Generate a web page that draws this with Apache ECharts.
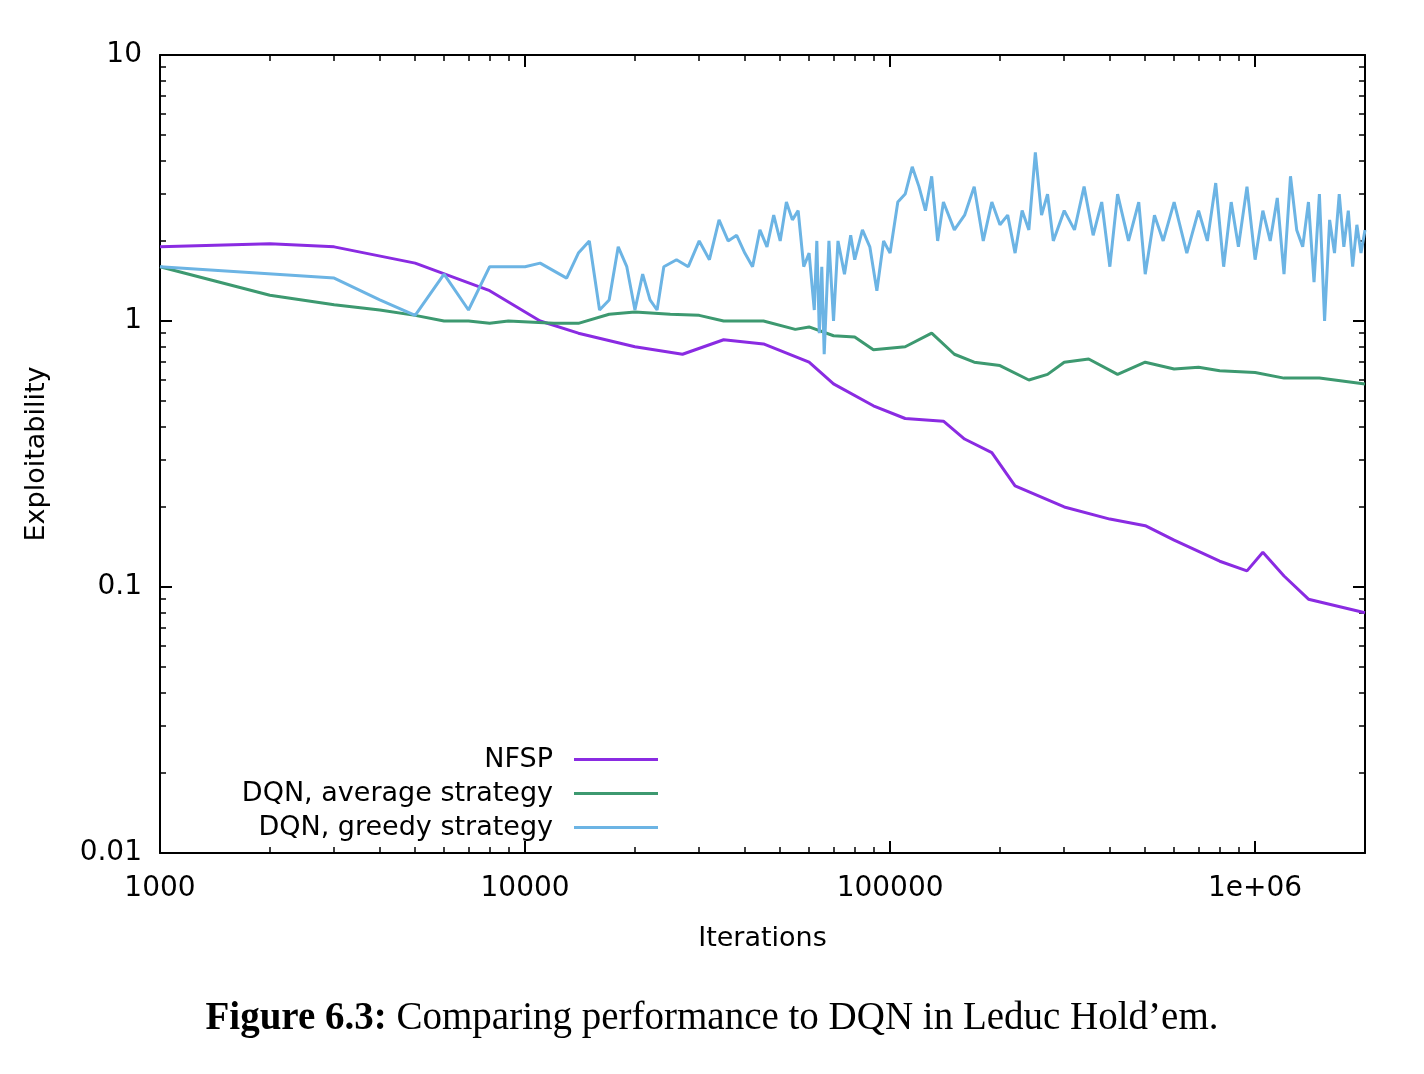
<!DOCTYPE html>
<html><head><meta charset="utf-8">
<script src="https://cdn.jsdelivr.net/npm/echarts@6/dist/echarts.min.js"></script>
<style>html,body{margin:0;background:#fff}#c{width:1424px;height:1074px}</style>
</head><body><div id="c"></div>
<script>
var nfspX = [1000,2000,3000,5000,8000,11000,14000,20000,27000,35000,45000,60000,70000,90000,110000,140000,160000,190000,220000,300000,400000,500000,600000,800000,950000,1050000,1200000,1400000,2000000];
var nfspY = [1.9,1.95,1.9,1.65,1.3,1.0,0.9,0.8,0.75,0.85,0.82,0.7,0.58,0.48,0.43,0.42,0.36,0.32,0.24,0.2,0.18,0.17,0.15,0.125,0.115,0.135,0.11,0.09,0.08];
var avgX = [1000,2000,3000,4000,5000,6000,7000,8000,9000,12000,14000,17000,20000,25000,30000,35000,45000,55000,60000,70000,80000,90000,110000,130000,150000,170000,200000,240000,270000,300000,350000,420000,500000,600000,700000,800000,1000000,1200000,1500000,2000000];
var avgY = [1.6,1.25,1.15,1.1,1.05,1.0,1.0,0.98,1.0,0.98,0.98,1.06,1.08,1.06,1.05,1.0,1.0,0.93,0.95,0.88,0.87,0.78,0.8,0.9,0.75,0.7,0.68,0.6,0.63,0.7,0.72,0.63,0.7,0.66,0.67,0.65,0.64,0.61,0.61,0.58];
var greedyX = [1000,3000,4000,5000,6000,7000,8000,10000,11000,13000,14000,15000,16000,17000,18000,19000,20000,21000,22000,23000,24000,26000,28000,30000,32000,34000,36000,38000,40000,42000,44000,46000,48000,50000,52000,54000,56000,58000,60000,62000,63000,64000,65000,66000,68000,70000,72000,75000,78000,80000,84000,88000,92000,96000,100000,105000,110000,115000,120000,125000,130000,135000,140000,150000,160000,170000,180000,190000,200000,210000,220000,230000,240000,250000,260000,270000,280000,300000,320000,340000,360000,380000,400000,420000,450000,480000,500000,530000,560000,600000,650000,700000,740000,780000,820000,860000,900000,950000,1000000,1050000,1100000,1150000,1200000,1250000,1300000,1350000,1400000,1450000,1500000,1550000,1600000,1650000,1700000,1750000,1800000,1850000,1900000,1950000,2000000];
var greedyY = [1.6,1.45,1.2,1.05,1.5,1.1,1.6,1.6,1.65,1.45,1.8,2.0,1.1,1.2,1.9,1.6,1.1,1.5,1.2,1.1,1.6,1.7,1.6,2.0,1.7,2.4,2.0,2.1,1.8,1.6,2.2,1.9,2.5,2.0,2.8,2.4,2.6,1.6,1.8,1.1,2.0,0.9,1.6,0.75,2.0,1.0,2.0,1.5,2.1,1.7,2.2,1.9,1.3,2.0,1.8,2.8,3.0,3.8,3.2,2.6,3.5,2.0,2.8,2.2,2.5,3.2,2.0,2.8,2.3,2.5,1.8,2.6,2.2,4.3,2.5,3.0,2.0,2.6,2.2,3.2,2.1,2.8,1.6,3.0,2.0,2.8,1.5,2.5,2.0,2.8,1.8,2.6,2.0,3.3,1.6,2.8,1.9,3.2,1.7,2.6,2.0,2.9,1.5,3.5,2.2,1.9,2.8,1.4,3.0,1.0,2.4,1.8,3.0,1.9,2.6,1.6,2.3,1.8,2.2];
var xTicks = {1000:'1000',10000:'10000',100000:'100000',1000000:'1e+06'};
var yTicks = {10:'10',1:'1',0.1:'0.1',0.01:'0.01'};

function pairs(xs, ys) { return xs.map(function (x, i) { return [x, ys[i]]; }); }

var chart = echarts.init(document.getElementById('c'));
var font = 'DejaVu Sans';
var lineIcon = 'path://M0,0 L84,0 L84,3 L0,3 Z';
function axisBase(show) {
  return {
    axisLine: { show: true, onZero: false, lineStyle: { color: '#000', width: 2 } },
    axisTick: { show: true, inside: true, length: 12, lineStyle: { color: '#000', width: 2 } },
    minorTick: { show: true, splitNumber: 9, length: 6, lineStyle: { color: '#000', width: 1.5 } },
    splitLine: { show: false },
    axisLabel: { show: show }
  };
}
var xb = axisBase(true), xt = axisBase(false), yl = axisBase(true), yr = axisBase(false);
xb.axisLabel = { color: '#000', fontSize: 28, fontFamily: font, margin: 22, formatter: function (v) { return xTicks[v] || ''; }, showMaxLabel: false };
yl.axisLabel = { color: '#000', fontSize: 28, fontFamily: font, margin: 18, formatter: function (v) { return yTicks[+v.toPrecision(3)] || ''; } };

function legend(name, top) {
  return { data: [name], right: 761, top: top, align: 'right', itemWidth: 84, itemHeight: 3, icon: lineIcon, itemGap: 0,
    textStyle: { fontSize: 27, fontFamily: font, color: '#000', padding: [0, 16, 0, 0] } };
}

chart.setOption({
  animation: false,
  grid: { left: 160, right: 59, top: 55, bottom: 221 },
  title: {
    text: '{b|Figure 6.3:} Comparing performance to DQN in Leduc Hold\u2019em.',
    left: 'center', top: 994,
    textStyle: { fontFamily: 'Liberation Serif', fontSize: 39, fontWeight: 'normal', color: '#000',
      rich: { b: { fontFamily: 'Liberation Serif', fontSize: 39, fontWeight: 'bold' } } }
  },
  legend: [legend('NFSP', 741), legend('DQN, average strategy', 775), legend('DQN, greedy strategy', 809)],
  xAxis: [
    Object.assign(xb, { type: 'log', logBase: 10, min: 1000, max: 2000000, position: 'bottom',
      name: 'Iterations', nameLocation: 'middle', nameGap: 72, nameTextStyle: { fontSize: 27, fontFamily: font, color: '#000' } }),
    Object.assign(xt, { type: 'log', logBase: 10, min: 1000, max: 2000000, position: 'top' })
  ],
  yAxis: [
    Object.assign(yl, { type: 'log', logBase: 10, min: 0.01, max: 10, position: 'left',
      name: 'Exploitability', nameLocation: 'middle', nameGap: 110, nameTextStyle: { fontSize: 27, fontFamily: font, color: '#000' } }),
    Object.assign(yr, { type: 'log', logBase: 10, min: 0.01, max: 10, position: 'right' })
  ],
  series: [
    { name: 'NFSP', type: 'line', data: pairs(nfspX, nfspY), showSymbol: false, color: '#8a2be2', lineStyle: { width: 3 } },
    { name: 'DQN, average strategy', type: 'line', data: pairs(avgX, avgY), showSymbol: false, color: '#3d9970', lineStyle: { width: 3 } },
    { name: 'DQN, greedy strategy', type: 'line', data: pairs(greedyX, greedyY), showSymbol: false, color: '#6cb4e4', lineStyle: { width: 3 } }
  ]
});
</script></body></html>
